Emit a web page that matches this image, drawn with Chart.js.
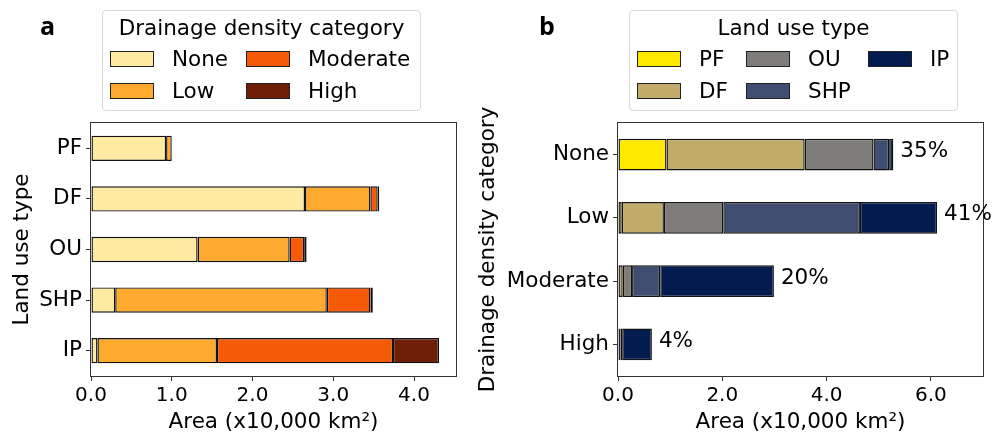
<!DOCTYPE html>
<html>
<head>
<meta charset="utf-8">
<script src="https://cdn.jsdelivr.net/npm/chart.js@4.4.0/dist/chart.umd.min.js"></script>
<style>
    body { margin: 0; background: #fff; font-family: "DejaVu Sans", sans-serif; color: #000; }
    #wrap { position: relative; width: 1002px; height: 434px; overflow: hidden; }
    canvas { position: absolute; top: 0; }
    #chart-a { left: 0; }
    #chart-b { left: 470px; }
    .panel-tag { position: absolute; top: 13px; font-family: "Open Sans", sans-serif; font-weight: 700; font-size: 25px; line-height: 25px; }
    .legend { position: absolute; top: 10px; height: 101px; box-sizing: border-box; border: 1px solid #d9d9d9; border-radius: 4px; background: #fff; }
    .legend-title { position: absolute; left: 0; right: 0; top: 5px; text-align: center; font-size: 21.5px; line-height: 24px; }
    .legend-grid { position: absolute; left: 7px; top: 40px; display: grid; grid-template-rows: 32px 32px; grid-auto-flow: column; }
    .legend-item { display: flex; align-items: center; height: 16px; font-size: 21.5px; line-height: 16px; white-space: nowrap; }
    .swatch { width: 44px; height: 16px; box-sizing: border-box; border: 1px solid #222; margin-right: 18px; }
</style>
</head>
<body>
<div id="wrap">
    <canvas id="chart-a" width="500" height="434"></canvas>
    <canvas id="chart-b" width="532" height="434"></canvas>
    <div class="panel-tag" style="left:40px">a</div>
    <div class="panel-tag" style="left:539px">b</div>
    <div class="legend" id="legend-a" style="left:102px; width:319px">
        <div class="legend-title">Drainage density category</div>
        <div class="legend-grid" style="grid-template-columns: 136px auto"></div>
    </div>
    <div class="legend" id="legend-b" style="left:629px; width:329px">
        <div class="legend-title">Land use type</div>
        <div class="legend-grid" style="grid-template-columns: 109px 122px auto"></div>
    </div>
</div>
<script>
const landUse = ['PF', 'DF', 'OU', 'SHP', 'IP'];
const drainage = ['None', 'Low', 'Moderate', 'High'];

// area (x10,000 km2) of each land use type, one value per drainage category
const pfArea = [0.93, 0.07, 0, 0];
const dfArea = [2.65, 0.81, 0.09, 0.02];
const ouArea = [1.32, 1.14, 0.18, 0.03];
const shpArea = [0.30, 2.62, 0.54, 0.03];
const ipArea = [0.08, 1.48, 2.18, 0.57];

const shareLabels = ['35%', '41%', '20%', '4%'];
const xTicksA = [0, 1, 2, 3, 4];
const xTicksB = [0, 2, 4, 6];

const drainageColors = ['#feeaa0', '#feaa2e', '#f55b07', '#6e1f05'];
const landUseColors = ['#ffe800', '#c2ac6b', '#7d7c78', '#3f4e70', '#021c50'];

const FONT = '"DejaVu Sans", sans-serif';
const byLandUse = [pfArea, dfArea, ouArea, shpArea, ipArea];

Chart.defaults.font.family = FONT;

function buildLegend(id, labels, colors) {
    const grid = document.querySelector('#' + id + ' .legend-grid');
    labels.forEach((label, i) => {
        const item = document.createElement('div');
        item.className = 'legend-item';
        item.innerHTML = `<span class="swatch" style="background:${colors[i]}"></span><span>${label}</span>`;
        grid.appendChild(item);
    });
}

const framePlugin = {
    id: 'frame',
    afterDatasetsDraw(chart) {
        const { ctx, chartArea: a } = chart;
        ctx.save();
        ctx.strokeStyle = '#333';
        ctx.lineWidth = 1;
        ctx.strokeRect(a.left - 0.5, a.top - 0.5, a.right - a.left + 1, a.bottom - a.top + 1);
        ctx.restore();
    }
};

const sharePlugin = {
    id: 'share',
    afterDatasetsDraw(chart) {
        const { ctx } = chart;
        const meta = chart.getDatasetMeta(chart.data.datasets.length - 1);
        ctx.save();
        ctx.font = '21.5px ' + FONT;
        ctx.fillStyle = '#000';
        ctx.textBaseline = 'middle';
        meta.data.forEach((bar, i) => {
            ctx.fillText(shareLabels[i], bar.x + 7, bar.y - 3);
        });
        ctx.restore();
    }
};

function chartOptions(cfg) {
    return {
        responsive: false,
        animation: false,
        devicePixelRatio: 1,
        indexAxis: 'y',
        layout: { padding: { left: 0, right: cfg.padRight, top: 123, bottom: 0 } },
        plugins: { legend: { display: false }, tooltip: { enabled: false } },
        datasets: {
            bar: { categoryPercentage: 0.5, barPercentage: 1, borderWidth: 1.4, borderColor: '#111', borderSkipped: false }
        },
        scales: {
            x: {
                type: 'linear', stacked: true, min: 0, max: cfg.xMax,
                afterBuildTicks: s => { s.ticks = cfg.xTicks.map(v => ({ value: v })); },
                afterFit: s => { s.height = 58; },
                grid: { drawOnChartArea: false, drawTicks: true, tickLength: 5, color: '#333' },
                border: { display: false },
                ticks: { padding: 3, color: '#000', maxRotation: 0, font: { size: 20 }, callback: v => Number(v).toFixed(1) },
                title: { display: true, text: 'Area (x10,000 km²)', color: '#000', font: { size: 21.5, lineHeight: 1.2 }, padding: { top: 0, bottom: -1 } }
            },
            y: {
                type: 'category', stacked: true, offset: true,
                afterFit: s => { s.width = cfg.yWidth; },
                grid: { offset: false, drawOnChartArea: false, drawTicks: true, tickLength: 5, color: '#333' },
                border: { display: false },
                ticks: { padding: 4, color: '#000', autoSkip: false, font: { size: 21.5 } },
                title: { display: true, text: cfg.yTitle, color: '#000', font: { size: 21.5, lineHeight: 1.2 }, padding: { top: cfg.titlePad, bottom: 0 } }
            }
        }
    };
}

new Chart(document.getElementById('chart-a'), {
    type: 'bar',
    data: {
        labels: landUse,
        datasets: drainage.map((d, j) => ({
            label: d,
            data: byLandUse.map(row => row[j]),
            backgroundColor: drainageColors[j]
        }))
    },
    options: chartOptions({ xMax: 4.52, xTicks: xTicksA, yWidth: 91, padRight: 44, yTitle: 'Land use type', titlePad: 10 }),
    plugins: [framePlugin]
});

new Chart(document.getElementById('chart-b'), {
    type: 'bar',
    data: {
        labels: drainage,
        datasets: landUse.map((u, i) => ({
            label: u,
            data: byLandUse[i],
            backgroundColor: landUseColors[i]
        }))
    },
    options: chartOptions({ xMax: 7, xTicks: xTicksB, yWidth: 148, padRight: 19, yTitle: 'Drainage density category', titlePad: 6 }),
    plugins: [framePlugin, sharePlugin]
});

buildLegend('legend-a', drainage, drainageColors);
buildLegend('legend-b', landUse, landUseColors);
</script>
</body>
</html>
